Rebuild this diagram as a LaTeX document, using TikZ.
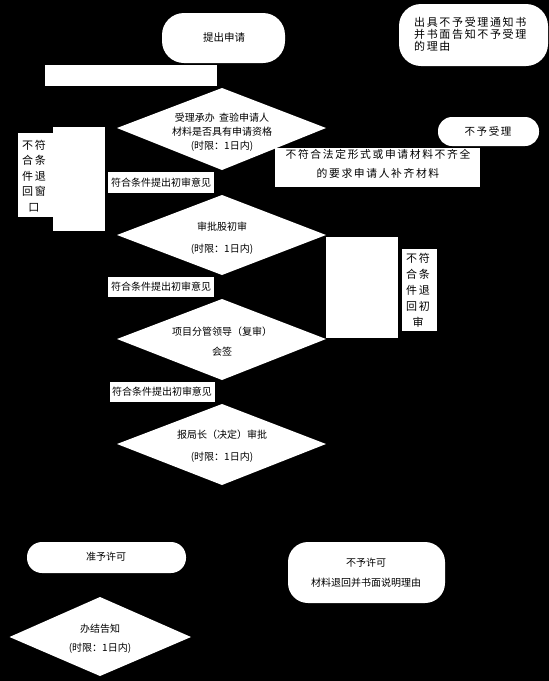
\documentclass[tikz,border=0pt]{standalone}
\usepackage{fontspec}
\newfontfamily\cjk{Noto Sans CJK SC}
\newfontfamily\cjksp[LetterSpace=15]{Noto Sans CJK SC}
\begin{document}
\begin{tikzpicture}[x=1pt,y=-1pt,
  txt/.style={inner sep=0pt,text=black,font=\cjk\fontsize{10}{14}\selectfont,align=center},
  sptxt/.style={inner sep=0pt,text=black,font=\cjksp\fontsize{10.5}{12}\selectfont,align=center},
  wbox/.style={fill=white},
]
\useasboundingbox (0,0) rectangle (549,681);
\fill[black] (0,0) rectangle (549,681);

% start
\fill[white,rounded corners=22pt] (162,13) rectangle (285,63);
\node[txt,font=\cjk\fontsize{10.5}{12}\selectfont] (start) at (224,38) {提出申请};

% top right notice
\fill[white,rounded corners=22pt] (399,4) rectangle (548,66);
\node[sptxt,align=left,anchor=north west,font=\cjksp\fontsize{11}{12}\selectfont] (notice) at (414,17.5) {出具不予受理通知书\\并书面告知不予受理\\的理由};

% wide white bar
\fill[white] (45,65) rectangle (217,86);

% diamond 1
\fill[white] (222,88) -- (326,128) -- (222,170) -- (117,128) -- cycle;
\node[txt] (d1) at (222,132) {受理承办\ \ 查验申请人\\材料是否具有申请资格\\(时限：1日内)};

% reject box
\fill[white,rounded corners=14pt] (438,117) rectangle (539,146);
\node[sptxt] (reject) at (488,131) {不予受理};

% supplement box
\fill[white] (275,148) rectangle (480,187);
\node[sptxt,font=\cjksp\fontsize{10.8}{19}\selectfont] (supp) at (378,164) {不符合法定形式或申请材料不齐全\\的要求申请人补齐材料};

% left vertical text box
\fill[white] (18,133) rectangle (53,217);
\node[sptxt,font=\cjksp\fontsize{11}{15.5}\selectfont] (back1) at (34,176) {不符\\合条\\件退\\回窗\\口};
\fill[white] (53,127) rectangle (105,231);

% label 1
\fill[white] (108,172) rectangle (214,193);
\node[txt] (l1) at (161,182.5) {符合条件提出初审意见};

% diamond 2
\fill[white] (222,195) -- (326,235) -- (222,275) -- (117,235) -- cycle;
\node[txt,font=\cjk\fontsize{10}{22}\selectfont] (d2) at (222,238) {审批股初审\\(时限：1日内)};

% label 2
\fill[white] (108,277) rectangle (214,297);
\node[txt] (l2) at (161,287) {符合条件提出初审意见};

% right tall rect and vertical text
\fill[white] (326,237) rectangle (398,338);
\fill[white] (402,249) rectangle (437,331);
\node[sptxt,font=\cjksp\fontsize{11}{16}\selectfont] (back2) at (418,290) {不符\\合条\\件退\\回初\\审};

% diamond 3
\fill[white] (222,299) -- (326,339) -- (222,380) -- (117,339) -- cycle;
\node[txt,font=\cjk\fontsize{10}{20}\selectfont] (d3) at (222,342) {项目分管领导（复审）\\会签};

% label 3
\fill[white] (110,382) rectangle (215,402);
\node[txt] (l3) at (162,392) {符合条件提出初审意见};

% diamond 4
\fill[white] (222,404) -- (326,444) -- (222,485) -- (117,444) -- cycle;
\node[txt,font=\cjk\fontsize{10}{22}\selectfont] (d4) at (222,446) {报局长（决定）审批\\(时限：1日内)};

% grant
\fill[white,rounded corners=15pt] (27,542) rectangle (186,573);
\node[txt] (grant) at (106,557) {准予许可};

% deny
\fill[white,rounded corners=20pt] (288,542) rectangle (445,603);
\node[txt,font=\cjk\fontsize{10}{20}\selectfont] (deny) at (366,573) {不予许可\\材料退回并书面说明理由};

% diamond 5
\fill[white] (100,597) -- (191,637) -- (100,676) -- (9.5,637) -- cycle;
\node[txt,font=\cjk\fontsize{10}{19}\selectfont] (d5) at (100,638.5) {办结告知\\(时限：1日内)};
\end{tikzpicture}
\end{document}
